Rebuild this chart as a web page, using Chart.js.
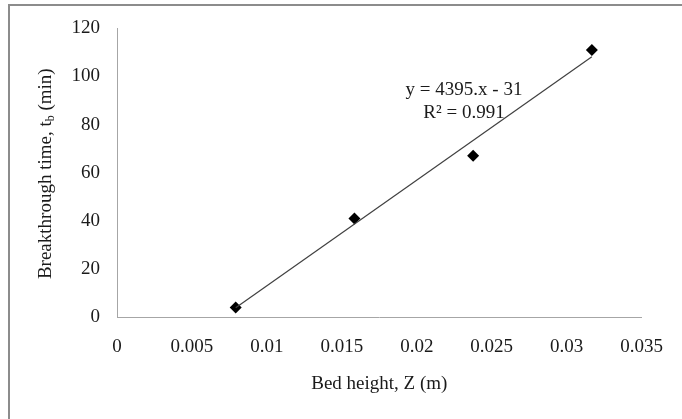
<!DOCTYPE html>
<html>
<head>
<meta charset="utf-8">
<script src="https://cdn.jsdelivr.net/npm/chart.js@4/dist/chart.umd.min.js"></script>
<style>
  body { margin: 0; background: #fff; }
  #wrap { position: relative; width: 682px; height: 419px; overflow: hidden; }
  #frame { position: absolute; left: 8px; top: 4px; width: 800px; height: 500px;
           border-left: 2px solid #8c8c8c; border-top: 2px solid #8c8c8c; }
  canvas { position: absolute; left: 0; top: 0; }
</style>
</head>
<body>
<div id="wrap">
  <div id="frame"></div>
  <canvas id="myChart" width="682" height="419"></canvas>
</div>
<script>
// bed height (m) vs breakthrough time (min)
const bedHeight = [0.00792, 0.01584, 0.02376, 0.03168];
const breakTime = [4, 41, 67, 111];

// linear trendline as printed on the chart
const slope = 4395;
const intercept = -31;
const eqLines = ['y = 4395.x - 31', 'R\u00b2 = 0.991'];

const xTitle = 'Bed height, Z (m)';
const yTitleParts = ['Breakthrough time, t', 'b', ' (min)'];

const serif = '"Liberation Serif", "Times New Roman", serif';
const textColor = '#1a1a1a';

const points = bedHeight.map((x, i) => ({ x: x, y: breakTime[i] }));
const xLo = Math.min(...bedHeight);
const xHi = Math.max(...bedHeight);
const trend = [
  { x: xLo, y: slope * xLo + intercept },
  { x: xHi, y: slope * xHi + intercept },
];

const extraText = {
  id: 'extraText',
  afterDraw(chart) {
    const { ctx, chartArea, scales } = chart;
    ctx.save();
    ctx.fillStyle = textColor;
    ctx.textBaseline = 'middle';

    // y axis title with subscript b
    const cy = (chartArea.top + chartArea.bottom) / 2 + 1;
    ctx.translate(46, cy);
    ctx.rotate(-Math.PI / 2);
    const big = '19px ' + serif;
    const small = '12px ' + serif;
    ctx.font = big;
    const w0 = ctx.measureText(yTitleParts[0]).width;
    const w2 = ctx.measureText(yTitleParts[2]).width;
    ctx.font = small;
    const w1 = ctx.measureText(yTitleParts[1]).width;
    let x = -(w0 + w1 + w2) / 2;
    ctx.textAlign = 'left';
    ctx.font = big;
    ctx.fillText(yTitleParts[0], x, 0);
    x += w0;
    ctx.font = small;
    ctx.fillText(yTitleParts[1], x, 5);
    x += w1;
    ctx.font = big;
    ctx.fillText(yTitleParts[2], x, 0);
    ctx.restore();

    // trendline equation
    ctx.save();
    ctx.fillStyle = textColor;
    ctx.font = '19px ' + serif;
    ctx.textAlign = 'center';
    ctx.textBaseline = 'middle';
    const ex = scales.x.getPixelForValue(0.02315);
    const ey = scales.y.getPixelForValue(94.5);
    eqLines.forEach((t, i) => ctx.fillText(t, ex, ey + i * 23));
    ctx.restore();
  },
};

const ctx = document.getElementById('myChart').getContext('2d');
const chart = new Chart(ctx, {
  type: 'scatter',
  data: {
    datasets: [
      {
        type: 'line',
        data: trend,
        borderColor: '#404040',
        borderWidth: 1.2,
        pointRadius: 0,
        fill: false,
      },
      {
        data: points,
        pointStyle: 'rectRot',
        pointRadius: 6,
        backgroundColor: '#000',
        borderColor: '#000',
        borderWidth: 0,
      },
    ],
  },
  options: {
    responsive: false,
    animation: false,
    layout: { padding: { left: 0, top: 25, right: 38, bottom: 0 } },
    plugins: { legend: { display: false }, tooltip: { enabled: false } },
    scales: {
      x: {
        type: 'linear',
        min: 0,
        max: 0.035,
        grid: { display: false, drawTicks: false },
        border: { display: true, color: '#a6a6a6', width: 1 },
        ticks: {
          stepSize: 0.005,
          padding: 19,
          color: textColor,
          font: { family: serif, size: 19 },
          maxRotation: 0,
          callback: (v) => String(Number(v.toFixed(3))),
        },
        title: {
          display: true,
          text: xTitle,
          color: textColor,
          font: { family: serif, size: 19 },
          padding: { top: 0, bottom: 24 },
        },
        afterFit: (axis) => { axis.height = 102; },
      },
      y: {
        min: 0,
        max: 120,
        grid: { display: false, drawTicks: false },
        border: { display: true, color: '#a6a6a6', width: 1 },
        ticks: {
          stepSize: 20,
          padding: 17,
          color: textColor,
          font: { family: serif, size: 19 },
        },
        afterFit: (axis) => { axis.width = 117; },
      },
    },
  },
  plugins: [extraText],
});
</script>
</body>
</html>
